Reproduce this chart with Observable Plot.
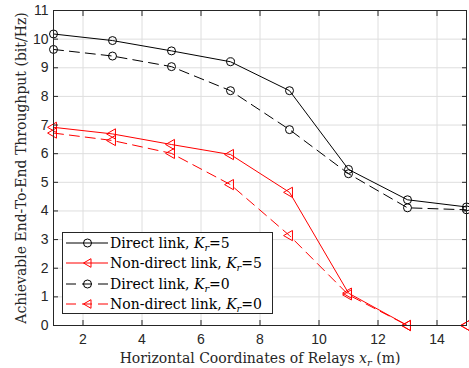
<!DOCTYPE html>
<html>
<head>
<meta charset="utf-8">
<script src="https://cdn.jsdelivr.net/npm/d3@7"></script>
<script src="https://cdn.jsdelivr.net/npm/@observablehq/plot@0.6"></script>
<style>
  html, body { margin: 0; padding: 0; background: #fff; }
  #wrap { position: relative; width: 469px; height: 368px; }
  #legend {
    position: absolute; left: 62px; top: 232px; width: 209px; height: 80px;
    border: 1px solid #262626; background: #fff; box-sizing: content-box;
    font-family: "DejaVu Serif", "Liberation Serif", serif; font-size: 14px; color: #000;
  }
  .row { position: absolute; left: 0; height: 20px; display: flex; align-items: center; white-space: nowrap; }
  .row svg { display: block; }
  .row span { margin-left: 1px; }
  sub { font-size: 70%; vertical-align: -3px; line-height: 0; }
</style>
</head>
<body>
<div id="wrap"></div>
<script>
const xs = [1, 3, 5, 7, 9, 11, 13, 15];
const direct5 = [10.18, 9.95, 9.59, 9.21, 8.2, 5.45, 4.39, 4.14];
const nondirect5 = [6.92, 6.69, 6.32, 5.97, 4.65, 1.13, 0, 0];
const direct0 = [9.64, 9.41, 9.04, 8.2, 6.84, 5.3, 4.11, 4.04];
const nondirect0 = [6.72, 6.46, 6.01, 4.92, 3.14, 1.07, 0, 0];
const xTicks = [2, 4, 6, 8, 10, 12, 14];
const yTicks = [0, 1, 2, 3, 4, 5, 6, 7, 8, 9, 10, 11];
const seriesNames = ["Direct link, K_r=5", "Non-direct link, K_r=5", "Direct link, K_r=0", "Non-direct link, K_r=0"];
const xLabel = "Horizontal Coordinates of Relays x_r (m)";
const yLabel = "Achievable End-To-End Throughput (bit/Hz)";

const series = [
  {name: seriesNames[0], values: direct5, color: "#000000", dash: null, symbol: "circle"},
  {name: seriesNames[1], values: nondirect5, color: "#ff0000", dash: null, symbol: "triangle"},
  {name: seriesNames[2], values: direct0, color: "#000000", dash: "10,6", symbol: "circle"},
  {name: seriesNames[3], values: nondirect0, color: "#ff0000", dash: "10,6", symbol: "triangle"}
];
const rows = (s) => xs.map((x, i) => ({x, y: s.values[i]}));

const axisColor = "#262626";
const serif = "DejaVu Serif, Liberation Serif, serif";
const marks = [
  Plot.gridX(xTicks, {stroke: "#dedede", strokeOpacity: 1}),
  Plot.gridY(yTicks, {stroke: "#dedede", strokeOpacity: 1}),
];
for (const s of series) {
  marks.push(Plot.line(rows(s), {x: "x", y: "y", stroke: s.color, strokeWidth: 1, strokeDasharray: s.dash}));
  if (s.symbol === "circle") {
    marks.push(Plot.dot(rows(s), {x: "x", y: "y", r: 4, stroke: s.color, fill: "none", strokeWidth: 1}));
  } else {
    marks.push(Plot.dot(rows(s), {x: "x", y: "y", r: 3.8, symbol: "triangle", rotate: -90, stroke: s.color, fill: "none", strokeWidth: 1}));
  }
}
marks.push(
  Plot.frame({stroke: axisColor, strokeWidth: 1}),
  Plot.axisX(xTicks, {anchor: "bottom", tickSize: -5, tickPadding: 14, stroke: axisColor, fill: axisColor, fontSize: 14,
    fontFamily: "Liberation Sans, Arial, sans-serif", label: null}),
  Plot.axisX(xTicks, {anchor: "top", tickSize: -5, tickFormat: () => "", stroke: axisColor, label: null}),
  Plot.axisY(yTicks, {anchor: "left", tickSize: -5, tickPadding: 10, stroke: axisColor, fill: axisColor, fontSize: 14,
    fontFamily: "Liberation Sans, Arial, sans-serif", label: null}),
  Plot.axisY(yTicks, {anchor: "right", tickSize: -5, tickFormat: () => "", stroke: axisColor, label: null}),
  Plot.text([yLabel], {frameAnchor: "left", dx: -32, rotate: -90, textAnchor: "middle", lineAnchor: "middle",
    text: d => d, fontFamily: serif, fontSize: 14, fill: axisColor}),
  Plot.text([xLabel], {frameAnchor: "bottom", dy: 33, textAnchor: "middle", lineAnchor: "middle",
    text: d => d, fontFamily: serif, fontSize: 14, fill: axisColor})
);

const chart = Plot.plot({
  width: 469,
  height: 368,
  marginLeft: 53,
  marginRight: 3,
  marginTop: 10,
  marginBottom: 43,
  style: {background: "#fff", overflow: "hidden"},
  x: {domain: [1, 15]},
  y: {domain: [0, 11]},
  marks
});
const wrap = document.getElementById("wrap");
wrap.appendChild(chart);

// Rich-text axis label (italic x with subscript r)
const ns = "http://www.w3.org/2000/svg";
const xl = Array.from(chart.querySelectorAll("text")).find(t => t.textContent === xLabel);
if (xl) {
  const parts = xLabel.split("x_r");
  xl.textContent = "";
  const t1 = document.createElementNS(ns, "tspan"); t1.textContent = parts[0];
  const t2 = document.createElementNS(ns, "tspan"); t2.textContent = "x"; t2.setAttribute("font-style", "italic");
  const t3 = document.createElementNS(ns, "tspan"); t3.textContent = "r"; t3.setAttribute("font-style", "italic");
  t3.setAttribute("font-size", "10"); t3.setAttribute("dy", "3");
  const t4 = document.createElementNS(ns, "tspan"); t4.textContent = parts[1]; t4.setAttribute("dy", "-3");
  xl.append(t1, t2, t3, t4);
}

// Legend
const legend = document.createElement("div");
legend.id = "legend";
series.forEach((s, i) => {
  const row = document.createElement("div");
  row.className = "row";
  row.style.top = (i * 20.3) + "px";
  const sym = s.symbol === "circle"
    ? `<circle cx="24.5" cy="10" r="4" fill="none" stroke="${s.color}"/>`
    : `<path d="M20.5,10 L28,5.7 L28,14.3 Z" fill="none" stroke="${s.color}"/>`;
  row.innerHTML = `<svg width="46" height="20"><line x1="3" x2="45" y1="10" y2="10" stroke="${s.color}" stroke-width="1" ${s.dash ? `stroke-dasharray="${s.dash}"` : ""}/>${sym}</svg>`;
  const [pre, post] = s.name.split("K_r");
  const span = document.createElement("span");
  span.innerHTML = `${pre}<i>K</i><sub><i>r</i></sub>${post}`;
  row.appendChild(span);
  legend.appendChild(row);
});
wrap.appendChild(legend);
</script>
</body>
</html>
